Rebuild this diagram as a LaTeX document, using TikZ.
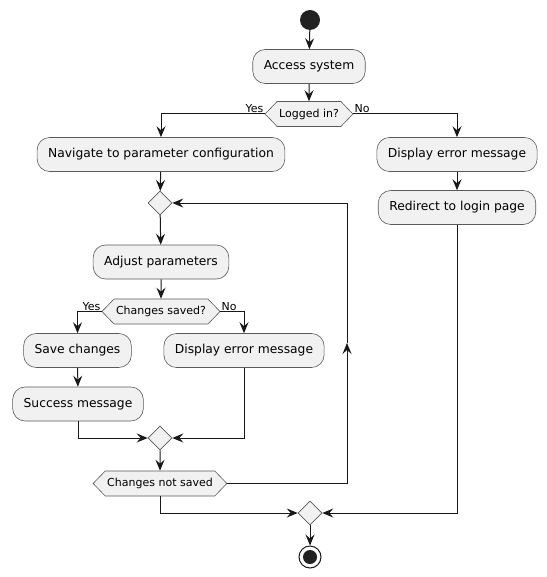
\documentclass[tikz,border=0pt]{standalone}
\usepackage{fontspec}
\setmainfont{DejaVu Sans}
\usetikzlibrary{arrows.meta,shapes.geometric,shapes.symbols,positioning}

\definecolor{boxfill}{HTML}{F1F1F1}
\definecolor{lineclr}{HTML}{181818}
\definecolor{edgeclr}{HTML}{5A5A5A}
\definecolor{dotclr}{HTML}{222222}

\tikzset{
  action/.style={draw=edgeclr, line width=0.6pt, fill=boxfill, rounded corners=12.5pt,
    minimum height=34pt, inner xsep=11pt, font=\fontsize{12.3}{14}\selectfont},
  test/.style={signal, signal to=east and west, signal pointer angle=92, draw=edgeclr,
    line width=0.6pt, fill=boxfill, minimum height=25pt, inner xsep=2pt, inner ysep=0pt,
    font=\fontsize{11}{13}\selectfont},
  merge/.style={diamond, draw=edgeclr, line width=0.6pt, fill=boxfill, minimum size=24pt, inner sep=0pt},
  lbl/.style={inner sep=1pt, font=\fontsize{11}{13}\selectfont},
  flow/.style={draw=lineclr, line width=1pt, -{Stealth[length=11pt,width=9pt,inset=4pt]}},
  plain/.style={draw=lineclr, line width=1pt}
}

\begin{document}
\begin{tikzpicture}[x=1pt,y=-1pt]
  \useasboundingbox (0,0) rectangle (546,577);

  % start and first step
  \node (start) [circle, fill=dotclr, minimum size=20pt, inner sep=0pt] at (310,20) {};
  \node (access) [action] at (309,66.5) {Access system};
  \node (logged) [test] at (309,114) {Logged in?};

  % not logged in
  \node (errA) [action] at (457,154.5) {Display error message};
  \node (redir) [action] at (457,207.5) {Redirect to login page};

  % logged in
  \node (nav) [action] at (161,154.5) {Navigate to parameter configuration};
  \node (m1) [merge] at (160,203) {};
  \node (adjust) [action] at (161,262) {Adjust parameters};
  \node (saved) [test] at (161,311.5) {Changes saved?};
  \node (save) [action] at (77.5,350.5) {Save changes};
  \node (succ) [action] at (78,404) {Success message};
  \node (errB) [action] at (244,350.5) {Display error message};
  \node (m2) [merge] at (160,438) {};
  \node (notsaved) [test] at (160,483.5) {Changes not saved};
  \coordinate (loopup) at (347,343);

  % end
  \node (m3) [merge] at (310,513) {};
  \node (stop) [circle, draw=lineclr, line width=1pt, fill=white, minimum size=22pt, inner sep=0pt] at (310,557) {};
  \fill [dotclr] (stop.center) circle (7pt);

  % labels
  \node [lbl, anchor=south east] at (logged.west) {Yes};
  \node [lbl, anchor=south west] at (logged.east) {No};
  \node [lbl, anchor=south east] at (saved.west) {Yes};
  \node [lbl, anchor=south west] at (saved.east) {No};

  % connectors
  \draw [flow] (start) -- (access);
  \draw [flow] (access) -- (logged);
  \draw [flow] (logged.west) -| (nav.north);
  \draw [flow] (logged.east) -| (errA.north);
  \draw [flow] (errA) -- (redir);
  \draw [flow] (nav) -- (m1);
  \draw [flow] (m1) -- (adjust);
  \draw [flow] (adjust) -- (saved);
  \draw [flow] (saved.west) -| (save.north);
  \draw [flow] (saved.east) -| (errB.north);
  \draw [flow] (save) -- (succ);
  \draw [flow] (succ.south) |- (m2.west);
  \draw [flow] (errB.south) |- (m2.east);
  \draw [flow] (m2) -- (notsaved);
  \draw [flow] (notsaved.east) -| (loopup);
  \draw [flow] (loopup) |- (m1.east);
  \draw [flow] (notsaved.south) |- (m3.west);
  \draw [flow] (redir.south) |- (m3.east);
  \draw [flow] (m3) -- (stop);
\end{tikzpicture}
\end{document}
